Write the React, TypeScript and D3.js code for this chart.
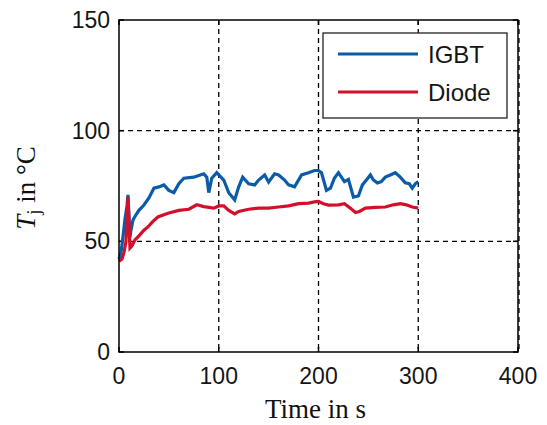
import * as d3 from "d3";

// junction temperature traces
const igbtTime = [0, 2, 4, 6, 8, 9, 10, 11, 12, 14, 17, 20, 25, 30, 35, 40, 45, 50, 55, 60, 65, 75, 85, 88, 90, 93, 98, 105, 110, 116, 120, 124, 130, 136, 140, 146, 150, 156, 160, 166, 170, 176, 183, 190, 196, 200, 203, 208, 212, 216, 220, 226, 230, 235, 240, 244, 248, 252, 255, 259, 263, 267, 272, 277, 282, 287, 291, 294, 297, 300];
const igbtTemp = [42, 45, 52, 60, 66, 71, 62, 52, 55, 59.6, 62, 64, 66.4, 69.6, 74, 74.6, 75.5, 73, 72, 76, 78.5, 79, 80.5, 79, 72, 78.5, 81, 77.7, 72, 68.7, 74.6, 79, 76, 75.5, 77.7, 80, 76.8, 80.5, 80, 77.7, 75.5, 74.6, 80, 81, 82, 82, 81, 73, 74, 78.6, 81, 77, 78, 70, 70.5, 75.5, 77.7, 80, 77.7, 76.4, 77, 79, 80, 81, 79, 76.4, 76, 74, 76, 77];

const diodeTime = [0, 3, 5, 7, 8, 9, 10, 11, 13, 16, 20, 25, 29, 34, 39, 45, 50, 60, 70, 78, 85, 95, 100, 105, 110, 116, 120, 130, 140, 150, 160, 170, 180, 190, 196, 200, 205, 210, 220, 226, 232, 237, 241, 247, 257, 267, 275, 282, 288, 294, 300];
const diodeTemp = [41, 42, 45, 50, 60, 70, 58, 47, 48, 50.6, 52.5, 55, 56.5, 59, 61, 62, 62.8, 64, 64.5, 66.5, 65.7, 65, 66, 66, 64, 62.4, 63.5, 64.5, 65, 65, 65.5, 66, 67, 67.3, 67.8, 68, 67, 66.4, 66.5, 67, 65, 63, 63.5, 65, 65.3, 65.5, 66.5, 67, 66.5, 65.5, 65];

const xTicks = [0, 100, 200, 300, 400];
const yTicks = [0, 50, 100, 150];
const seriesNames = ["IGBT", "Diode"];
const seriesColors = ["#0b5ca8", "#d2102b"];

const W = 547;
const H = 425;

export default function App() {
  const x = d3.scaleLinear().domain([0, 400]).range([119, 518]);
  const y = d3.scaleLinear().domain([0, 150]).range([352, 20]);

  const line = d3
    .line<[number, number]>()
    .x((d) => x(d[0]))
    .y((d) => y(d[1]));

  const igbt = igbtTime.map((t, i) => [t, igbtTemp[i]] as [number, number]);
  const diode = diodeTime.map((t, i) => [t, diodeTemp[i]] as [number, number]);

  const [x0, x1] = x.range();
  const [y0, y1] = y.range();
  const tick = 5;

  return (
    <svg
      width={W}
      height={H}
      style={{ position: "absolute", left: 0, top: 0, background: "#fff" }}
    >
      <rect width={W} height={H} fill="#fff" />

      {/* grid */}
      {xTicks.slice(1).map((t, i, arr) => (
        <line key={"gx" + t} x1={x(t) + (i === arr.length - 1 ? 1 : 0)}
          x2={x(t) + (i === arr.length - 1 ? 1 : 0)} y1={y1} y2={y0}
          stroke="#000" strokeWidth={1.3} strokeDasharray="5,4" />
      ))}
      {yTicks.slice(1, -1).map((t) => (
        <line key={"gy" + t} x1={x0} x2={x1} y1={y(t)} y2={y(t)}
          stroke="#000" strokeWidth={1.3} strokeDasharray="5,4" />
      ))}

      {/* ticks on all four sides */}
      {xTicks.map((t) => (
        <g key={"tx" + t} stroke="#000" strokeWidth={1.5}>
          <line x1={x(t)} x2={x(t)} y1={y0} y2={y0 - tick} />
          <line x1={x(t)} x2={x(t)} y1={y1} y2={y1 + tick} />
        </g>
      ))}
      {yTicks.map((t) => (
        <g key={"ty" + t} stroke="#000" strokeWidth={1.5}>
          <line x1={x0} x2={x0 + tick} y1={y(t)} y2={y(t)} />
          <line x1={x1} x2={x1 - tick} y1={y(t)} y2={y(t)} />
        </g>
      ))}

      {/* data */}
      <path d={line(igbt) ?? ""} fill="none" stroke={seriesColors[0]} strokeWidth={3.2} />
      <path d={line(diode) ?? ""} fill="none" stroke={seriesColors[1]} strokeWidth={3.2} />

      {/* box */}
      <rect x={x0} y={y1} width={x1 - x0} height={y0 - y1}
        fill="none" stroke="#000" strokeWidth={1.5} />

      {/* tick labels */}
      <g fontFamily="Liberation Sans, Arial, sans-serif" fontSize={23} fill="#151515">
        {xTicks.map((t) => (
          <text key={"lx" + t} x={x(t)} y={384} textAnchor="middle">{t}</text>
        ))}
        {yTicks.map((t) => (
          <text key={"ly" + t} x={110} y={y(t) + 8} textAnchor="end">{t}</text>
        ))}
      </g>

      {/* axis titles */}
      <text x={(x0 + x1) / 2 - 3} y={418} textAnchor="middle"
        fontFamily="Liberation Serif, Times New Roman, serif" fontSize={27} fill="#111">
        Time in s
      </text>
      <text transform="translate(35,188) rotate(-90)" textAnchor="middle"
        fontFamily="Liberation Serif, Times New Roman, serif" fontSize={27} fill="#111">
        <tspan fontStyle="italic">T</tspan>
        <tspan fontSize={19} dy={5}>j</tspan>
        <tspan dy={-5}> in °C</tspan>
      </text>

      {/* legend */}
      <rect x={323} y={33} width={184} height={85} fill="#fff" stroke="#222" strokeWidth={1.3} />
      {seriesNames.map((name, i) => (
        <g key={name}>
          <line x1={338} x2={418} y1={54 + i * 38} y2={54 + i * 38}
            stroke={seriesColors[i]} strokeWidth={3} />
          <text x={428} y={63 + i * 38} fontFamily="Liberation Sans, Arial, sans-serif"
            fontSize={24} fill="#151515">{name}</text>
        </g>
      ))}
    </svg>
  );
}
